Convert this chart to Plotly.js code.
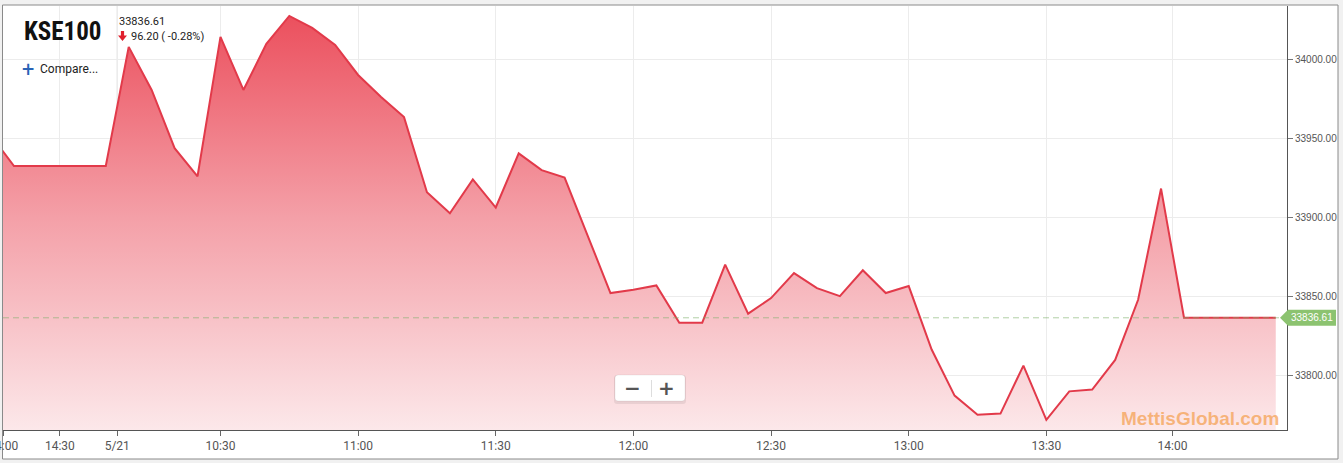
<!DOCTYPE html>
<html>
<head>
<meta charset="utf-8">
<script src="https://cdn.plot.ly/plotly-3.0.1.min.js"></script>
<style>
html,body{margin:0;padding:0;background:#f1f1f1;}
#chart{width:1343px;height:463px;}
</style>
</head>
<body>
<div id="chart"></div>
<script>
// ---- data ----
const symbol = "KSE100";
const lastPrice = 33836.61;
const changeText = "96.20 ( -0.28%)";
const startIndex = -1; // bar index of the first value
const values = [
  33952.0,
  33932.81, 33932.81, 33932.81, 33932.81, 33932.81,
  34008.3, 33981.0, 33944.1, 33926.3, 34014.6, 33981.0, 34010.2, 34027.9,
  34020.3, 34009.5, 33990.5, 33976.5, 33963.8, 33916.2, 33902.9, 33924.3,
  33906.5, 33940.8, 33930.2, 33925.5, 33888.9, 33852.3, 33854.4, 33857.1,
  33833.5, 33833.5, 33870.3, 33839.2, 33849.1, 33864.9, 33855.4, 33850.3,
  33866.7, 33852.3, 33856.7, 33816.5, 33787.3, 33775.2, 33775.9, 33806.3,
  33771.9, 33790.0, 33791.1, 33809.9, 33848.0, 33918.5,
  33836.61, 33836.61, 33836.61, 33836.61, 33836.61
];
const tickIndex = [-0.47, 2, 4.5, 9, 15, 21, 27, 33, 39, 45, 50.5];
const tickLabels = ["14:00", "14:30", "5/21", "10:30", "11:00", "11:30", "12:00", "12:30", "13:00", "13:30", "14:00"];
const dayBreakIndex = 4.5;
const watermark = "MettisGlobal.com";

// ---- layout helpers (pixel -> paper) ----
const L = 3, R = 1287, T = 6, B = 430;
const px = x => (x - L) / (R - L);
const py = y => (B - y) / (B - T);

const xs = values.map((_, i) => startIndex + i);

const trace = {
  x: xs, y: values, type: 'scatter', mode: 'lines',
  line: {color: 'rgb(226,58,74)', width: 2},
  fill: 'tozeroy',
  fillgradient: {
    type: 'vertical',
    start: 33765, stop: 34034,
    colorscale: [[0, 'rgb(252,232,234)'], [0.5, 'rgb(244,160,168)'], [1, 'rgb(235,76,90)']]
  },
  hoverinfo: 'skip'
};

const shapes = [
  // outer frame
  {type: 'rect', xref: 'paper', yref: 'paper', layer: 'below',
   x0: px(2.5), x1: px(1338), y0: py(459), y1: py(5),
   fillcolor: '#ffffff', line: {color: '#8a8a8a', width: 1}},
  // title backing box covering grid
  {type: 'rect', xref: 'paper', yref: 'paper', layer: 'between',
   x0: px(3.5), x1: px(114), y0: py(52), y1: py(6),
   fillcolor: '#ffffff', line: {width: 0}},
  // day break gridline
  {type: 'line', xref: 'x', yref: 'paper', layer: 'between',
   x0: dayBreakIndex, x1: dayBreakIndex, y0: 0, y1: 1,
   line: {color: '#cfcfcf', width: 1}},
  // last price dashed line
  {type: 'line', xref: 'paper', yref: 'y', layer: 'above',
   x0: 0, x1: 1, y0: lastPrice, y1: lastPrice,
   line: {color: 'rgba(125,175,105,0.6)', width: 1, dash: '6px,4px'}},
  // price tag
  {type: 'path', xref: 'paper', yref: 'y', xsizemode: 'pixel', ysizemode: 'pixel',
   xanchor: 1, yanchor: lastPrice,
   path: 'M-7,0 L1,8 L49,8 L49,-8 L1,-8 Z',
   fillcolor: 'rgb(140,195,112)', line: {width: 0}},
  // zoom buttons shadow
  {type: 'path', xref: 'paper', yref: 'paper', xsizemode: 'pixel', ysizemode: 'pixel',
   xanchor: px(650), yanchor: py(389), layer: 'above',
   path: 'M-33,14 L33,14 Q36,14 36,11 L36,-12 Q36,-15 33,-15 L-33,-15 Q-36,-15 -36,-12 L-36,11 Q-36,14 -33,14 Z',
   fillcolor: 'rgba(0,0,0,0.07)', line: {width: 0}},
  {type: 'path', xref: 'paper', yref: 'paper', xsizemode: 'pixel', ysizemode: 'pixel',
   xanchor: px(650), yanchor: py(388), layer: 'above',
   path: 'M-32,13 L32,13 Q35,13 35,10 L35,-10 Q35,-13 32,-13 L-32,-13 Q-35,-13 -35,-10 L-35,10 Q-35,13 -32,13 Z',
   fillcolor: '#ffffff', line: {color: 'rgba(0,0,0,0.06)', width: 1}},
  {type: 'line', xref: 'paper', yref: 'paper', layer: 'above',
   x0: px(651.5), x1: px(651.5), y0: py(397), y1: py(380),
   line: {color: '#dddddd', width: 1}},
  // red down arrow
  {type: 'path', xref: 'paper', yref: 'paper', xsizemode: 'pixel', ysizemode: 'pixel',
   xanchor: px(122.5), yanchor: py(36),
   path: 'M-1.6,5 L1.6,5 L1.6,0.5 L4.5,0.5 L0,-5 L-4.5,0.5 L-1.6,0.5 Z',
   fillcolor: '#e0202e', line: {width: 0}}
];

const ann = (x, y, text, font, extra) => Object.assign({
  xref: 'paper', yref: 'paper', x: px(x), y: py(y), text: text,
  showarrow: false, xanchor: 'left', yanchor: 'middle', font: font
}, extra || {});

const annotations = [
  ann(22, 31, symbol, {family: 'Roboto Condensed, Liberation Sans Narrow, Roboto, sans-serif', size: 25, color: '#111111', weight: 700, stretch: 'condensed'}),
  ann(117, 22, lastPrice.toFixed(2), {family: 'Roboto, sans-serif', size: 11, color: '#222222'}),
  ann(129, 36.5, changeText, {family: 'Roboto, sans-serif', size: 11, color: '#222222'}),
  ann(28, 68.5, '+', {family: 'DejaVu Sans, sans-serif', size: 17, color: '#2a63b6', weight: 700}, {xanchor: 'center'}),
  ann(38, 69, 'Compare...', {family: 'Roboto, sans-serif', size: 12, color: '#222222'}),
  ann(1312, 317.5, lastPrice.toFixed(2), {family: 'Liberation Sans, Arial, sans-serif', size: 10, color: '#ffffff'}, {xanchor: 'center'}),
  ann(632, 388, '\u2212', {family: 'DejaVu Sans, sans-serif', size: 20, color: '#555555', weight: 700}, {xanchor: 'center'}),
  ann(667, 388, '+', {family: 'DejaVu Sans, sans-serif', size: 20, color: '#555555', weight: 700}, {xanchor: 'center'}),
  ann(1281, 418, watermark, {family: 'Liberation Sans, Arial, sans-serif', size: 19, color: 'rgba(245,160,80,0.72)', weight: 700}, {xanchor: 'right'})
];

const layout = {
  width: 1343, height: 463,
  margin: {l: L, r: 1343 - R, t: T, b: 463 - B, pad: 0},
  paper_bgcolor: '#f1f1f1', plot_bgcolor: '#ffffff',
  showlegend: false,
  xaxis: {
    range: [-0.48, 55.49], tickmode: 'array', tickvals: tickIndex, ticktext: tickLabels,
    ticklabeloverflow: 'allow',
    showgrid: true, gridcolor: '#ececec', gridwidth: 1, zeroline: false,
    showline: true, linecolor: '#555555', linewidth: 1,
    ticks: 'outside', ticklen: 5, tickcolor: '#666666',
    tickfont: {family: 'Roboto, sans-serif', size: 12, color: '#555555'},
    fixedrange: true
  },
  yaxis: {
    side: 'right', range: [33765.5, 34034.2], dtick: 50, tick0: 0, tickformat: '.2f',
    showgrid: true, gridcolor: '#ececec', gridwidth: 1, zeroline: false,
    showline: true, linecolor: '#555555', linewidth: 1,
    ticks: 'outside', ticklen: 5, tickcolor: '#777777',
    tickfont: {family: 'Liberation Sans, Arial, sans-serif', size: 10, color: '#555555'},
    fixedrange: true
  },
  shapes: shapes,
  annotations: annotations
};

Plotly.newPlot('chart', [trace], layout, {displayModeBar: false, staticPlot: true});
</script>
</body>
</html>
